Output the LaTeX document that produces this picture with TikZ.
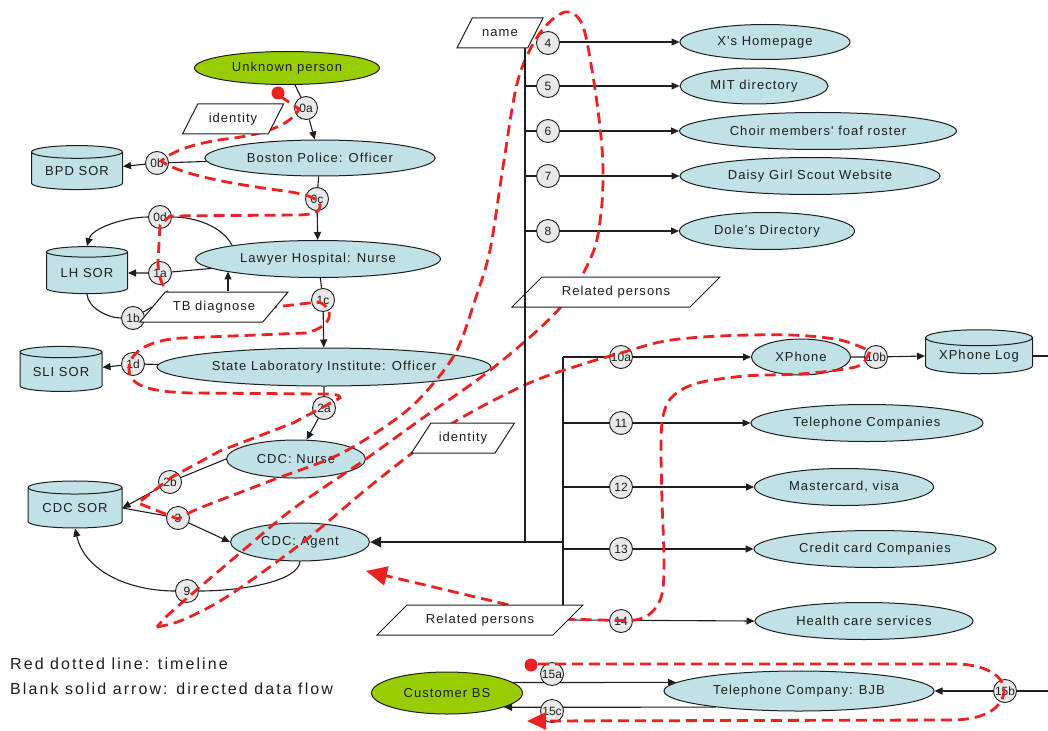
\documentclass[tikz,border=0pt]{standalone}
\usepackage{fontspec}
\setmainfont{Liberation Sans}
\newfontfamily\lblfont{Liberation Sans}[LetterSpace=8]
\newfontfamily\keyfont{Liberation Sans}[LetterSpace=13]
\usetikzlibrary{shapes.geometric, arrows.meta, calc}

\definecolor{ellfill}{RGB}{192,225,229}
\definecolor{ngreen}{RGB}{153,204,0}
\definecolor{cfill}{RGB}{233,233,233}
\definecolor{tred}{RGB}{236,34,34}
\definecolor{ink}{RGB}{30,30,30}

\pgfdeclarelayer{bg}
\pgfdeclarelayer{red}
\pgfdeclarelayer{top}
\pgfsetlayers{bg,main,red,top}

\tikzset{
  lbl/.style={font=\lblfont\fontsize{13}{15}\selectfont, text=ink},
  proc/.style={ellipse, draw=ink, line width=1pt, fill=ellfill, inner sep=0pt, lbl},
  actor/.style={proc, fill=ngreen},
  store/.style={cylinder, shape border rotate=90, aspect=0.2, draw=ink, line width=1pt,
    cylinder uses custom fill, cylinder body fill=ellfill, cylinder end fill=ellfill,
    inner sep=0pt, lbl},
  dataitem/.style={trapezium, trapezium stretches body, draw=ink, line width=1pt,
    fill=white, text height=10pt, text depth=3pt, inner xsep=1pt, inner ysep=8.5pt, lbl},
  stepno/.style={circle, draw=ink, line width=0.9pt, fill=cfill, minimum size=23pt,
    inner sep=0pt, font=\fontsize{12}{13}\selectfont, text=ink},
  link/.style={draw=ink, line width=1.1pt},
  flow/.style={link, -{Triangle[length=8pt,width=7pt]}},
  trunk/.style={draw=ink, line width=2.6pt},
  timeline/.style={draw=tred, line width=2.8pt, dash pattern=on 11pt off 6pt},
  keytext/.style={font=\keyfont\fontsize{16}{18}\selectfont, text=ink, inner sep=0pt, anchor=west},
}

\begin{document}
\begin{tikzpicture}[x=1pt,y=-1pt]
\useasboundingbox (0,0) rectangle (1048,730);
\clip (0,0) rectangle (1048,730);

% ---------- people and services ----------
\node[actor, minimum width=185pt, minimum height=33pt] (unk) at (287,68) {Unknown person};
\node[proc, minimum width=230pt, minimum height=36pt] (bpo) at (320,158) {Boston Police: Officer};
\node[proc, minimum width=245pt, minimum height=37pt] (lhn) at (318,259) {Lawyer Hospital: Nurse};
\node[proc, minimum width=334pt, minimum height=38pt] (sli) at (324,367) {State Laboratory Institute: Officer};
\node[proc, minimum width=139pt, minimum height=38pt] (cdcn) at (296,459) {CDC: Nurse};
\node[proc, minimum width=139pt, minimum height=38pt] (cdca) at (300,542) {CDC: Agent};

\node[proc, minimum width=170pt, minimum height=35pt] (xh) at (765,42) {X's Homepage};
\node[proc, minimum width=148pt, minimum height=36pt] (mit) at (754,86) {MIT directory};
\node[proc, minimum width=277pt, minimum height=37pt] (choir) at (818,131) {Choir members' foaf roster};
\node[proc, minimum width=260pt, minimum height=37pt] (daisy) at (810,176) {Daisy Girl Scout Website};
\node[proc, minimum width=175pt, minimum height=37pt] (dole) at (767,231) {Dole's Directory};

\node[proc, minimum width=99pt, minimum height=36pt] (xphone) at (801,357) {XPhone};
\node[proc, minimum width=232pt, minimum height=37pt] (telco) at (867,423) {Telephone Companies};
\node[proc, minimum width=179pt, minimum height=37pt] (master) at (844,487) {Mastercard, visa};
\node[proc, minimum width=242pt, minimum height=37pt] (credit) at (875,549) {Credit card Companies};
\node[proc, minimum width=218pt, minimum height=37pt] (health) at (864,621) {Health care services};

\node[actor, minimum width=151pt, minimum height=42pt] (cbs) at (447,693) {Customer BS};
\node[proc, minimum width=270pt, minimum height=40pt] (bjb) at (799,691) {Telephone Company: BJB};

% ---------- record stores ----------
\node[store, minimum width=91pt, minimum height=44pt] (bpd) at (77,171) {BPD SOR};
\node[store, minimum width=81pt, minimum height=47pt] (lh) at (87,273) {LH SOR};
\node[store, minimum width=82pt, minimum height=45pt] (slisor) at (61,372) {SLI SOR};
\node[store, minimum width=94pt, minimum height=47pt] (cdcsor) at (75,508) {CDC SOR};
\node[store, minimum width=107pt, minimum height=44pt] (xlog) at (979,356) {XPhone Log};

% ---------- step numbers ----------
\node[stepno] (c0a) at (306,108) {0a};
\node[stepno] (c0b) at (157,163) {0b};
\node[stepno] (c0c) at (317,199) {0c};
\node[stepno] (c0d) at (160,217) {0d};
\node[stepno] (c1a) at (160,273) {1a};
\node[stepno] (c1b) at (133,318) {1b};
\node[stepno] (c1c) at (323,300) {1c};
\node[stepno] (c1d) at (133,364) {1d};
\node[stepno] (c2a) at (324,408) {2a};
\node[stepno] (c2b) at (170,482) {2b};
\node[stepno] (c3) at (178,518) {3};
\node[stepno] (c9) at (187,591) {9};
\node[stepno] (c4) at (548,43) {4};
\node[stepno] (c5) at (548,86) {5};
\node[stepno] (c6) at (548,131) {6};
\node[stepno] (c7) at (548,176) {7};
\node[stepno] (c8) at (548,231) {8};
\node[stepno] (c10a) at (621,357) {10a};
\node[stepno] (c10b) at (876,357) {10b};
\node[stepno] (c11) at (621,423) {11};
\node[stepno] (c12) at (621,487) {12};
\node[stepno] (c13) at (621,549) {13};
\node[stepno] (c14) at (621,621) {14};
\node[stepno] (c15a) at (552,674) {15a};
\node[stepno] (c15b) at (1005,691) {15b};
\node[stepno] (c15c) at (552,711) {15c};

% ---------- data items ----------
\begin{pgfonlayer}{top}
\node[dataitem, trapezium left angle=63, trapezium right angle=117, minimum width=101pt] (id1) at (233,119) {identity};
\node[dataitem, trapezium left angle=50, trapezium right angle=130, minimum width=148pt] (tb) at (214,307) {TB diagnose};
\node[dataitem, trapezium left angle=63, trapezium right angle=117, minimum width=86pt] (name) at (500,33) {name};
\node[dataitem, trapezium left angle=45, trapezium right angle=135, minimum width=208pt] (rp1) at (616,292) {Related persons};
\node[dataitem, trapezium left angle=57, trapezium right angle=123, minimum width=103pt] (id2) at (463,438) {identity};
\node[dataitem, trapezium left angle=45, trapezium right angle=135, minimum width=206pt] (rp2) at (480,620) {Related persons};
\end{pgfonlayer}

% ---------- legend ----------
\node[keytext] (key1) at (10,664) {Red dotted line: timeline};
\node[keytext] (key2) at (10,689) {Blank solid arrow: directed data flow};

% ---------- data flows ----------
\coordinate (vtop) at (525,48);
\coordinate (vmid) at (525,86);
\coordinate (vbot) at (525,542);
\coordinate (hj) at (563,542);

\begin{pgfonlayer}{bg}
\draw[flow] (unk) -- (c0a) -- (bpo);
\draw[flow] (bpo) -- (c0b) -- (bpd);
\draw[flow] (bpo) -- (c0c) -- (lhn);
\draw[flow] (lhn.171) .. controls (222,226) and (195,217) .. (c0d)
            .. controls (125,217) and (92,228) .. (lh.north);
\draw[flow] (lhn) -- (c1a) -- (lh);
\draw[link] (lh.south) .. controls (88,308) and (108,318) .. (c1b) -- (tb.west);
\draw[flow] ([xshift=14pt]tb.north) -- ++(0,-20);
\draw[flow] (lhn) -- (c1c) -- (sli);
\draw[flow] (sli) -- (c1d) -- (slisor);
\draw[flow] (sli) -- (c2a) -- (cdcn);
\draw[flow] (cdcn.west) -- (c2b) -- (cdcsor.east);
\draw[flow] (cdcsor.east) -- (c3) -- (cdca.west);
\draw[flow] (cdca.south) .. controls (298,582) and (240,591) .. (c9)
            .. controls (130,591) and (85,572) .. (cdcsor.south);

\draw[flow] (name.east |- xh.west) -- (xh.west);
\draw[flow] (vtop |- mit.west) -- (mit.west);
\draw[flow] (vtop |- choir.west) -- (choir.west);
\draw[flow] (vtop |- daisy.west) -- (daisy.west);
\draw[flow] (vtop |- dole.west) -- (dole.west);

\draw[link] (hj |- xphone.west) -- (hj |- rp2.north);
\draw[flow] (hj |- xphone.west) -- (xphone.west);
\draw[flow] (hj |- telco.west) -- (telco.west);
\draw[flow] (hj |- master.west) -- (master.west);
\draw[flow] (hj |- credit.west) -- (credit.west);
\draw[flow] (rp2.east) -- (health.west);

\draw[flow] (xphone.east) -- (c10b) -- (xlog.west);
\draw[flow] (xlog.east) -- (1060,356) -- (1060,691) -- (bjb.east);
\draw[flow] (cbs.9) -- (bjb.176);
\draw[flow] (bjb.191) -- (cbs.-14);
\end{pgfonlayer}

\begin{pgfonlayer}{top}
\draw[link] (vtop) -- (vmid);
\draw[trunk] (vmid) -- (vbot);
\draw[trunk, -{Triangle[length=11pt,width=10pt]}] (hj) -- (cdca.east);
\end{pgfonlayer}

% ---------- timeline ----------
\begin{pgfonlayer}{red}
\fill[tred] (278,93) circle (6.5pt);
\draw[timeline] (280,96) -- (299,109)
  .. controls (290,126) and (262,135) .. (226,139)
  .. controls (196,143) and (174,150) .. (161,161)
  .. controls (182,176) and (240,185) .. (284,191)
  .. controls (306,194) and (318,198) .. (320,205)
  .. controls (321,212) and (313,215) .. (296,215)
  -- (170,216) -- (160,225) -- (158,262)
  .. controls (158,276) and (162,286) .. (170,296);

\draw[timeline] (266,308) -- (318,302)
  .. controls (334,306) and (336,326) .. (306,333)
  -- (182,338)
  .. controls (146,340) and (128,354) .. (129,370)
  .. controls (130,386) and (150,392) .. (192,393)
  -- (322,394)
  .. controls (334,394) and (341,395) .. (340,398)
  -- (293,423) -- (220,451) -- (172,477) -- (138,503)
  -- plot[smooth, tension=0.55] coordinates {(178,519) (200,508) (270,481) (340,454)
     (400,416) (432,385) (457,350) (475,300) (490,250) (503,167) (518,80) (540,33)
     (565,12) (582,24) (592,70) (600,127) (603,170) (601,213) (592,255) (560,308)
     (493,368) (420,420) (363,461) (320,490) (285,515) (240,553) (200,587) (168,615)
     (157,627)};

\draw[timeline, -{Triangle[length=21pt,width=19pt]}]
  plot[smooth, tension=0.55] coordinates {(157,627) (180,621) (215,604) (253,579)
     (307,539) (363,492) (407,457) (456,421) (527,384) (580,365) (621,353) (665,341)
     (720,336) (790,335) (840,340) (870,351)}
  -- plot[smooth, tension=0.55] coordinates {(870,351) (862,364) (845,369) (800,374)
     (745,376) (698,383) (674,395) (664,412) (661,440) (662,500) (664,560) (662,594)
     (652,612) (635,620) (600,620) (568,619)}
  -- (366,571);

\fill[tred] (531,665) circle (6.5pt);
\draw[timeline, -{Triangle[length=19pt,width=17pt]}] (538,664) -- (960,664)
  .. controls (990,666) and (1005,678) .. (1004,692)
  .. controls (1002,708) and (985,719) .. (955,720) -- (527,721);
\end{pgfonlayer}

\end{tikzpicture}
\end{document}
